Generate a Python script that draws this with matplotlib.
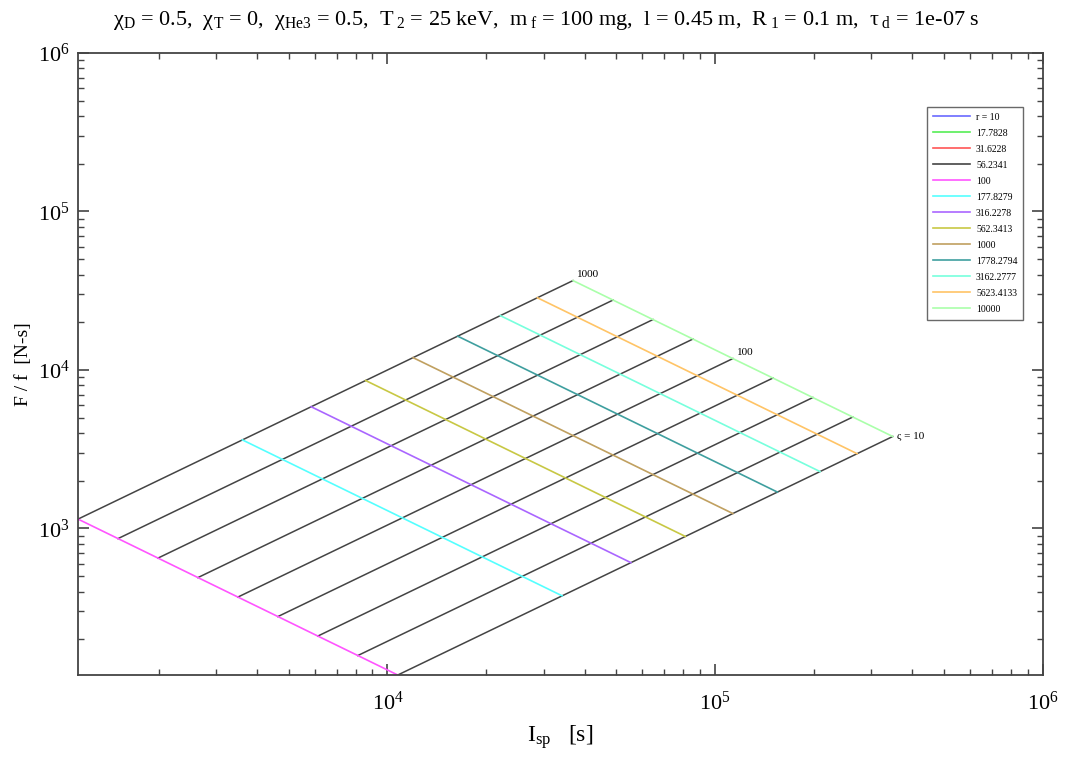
import numpy as np
import matplotlib
matplotlib.use("Agg")
import matplotlib.pyplot as plt
from matplotlib.ticker import LogLocator, NullFormatter

# %% Style
plt.rcParams['font.family'] = ['Liberation Serif', 'DejaVu Serif']
plt.rcParams['mathtext.fontset'] = 'custom'
plt.rcParams['mathtext.rm'] = 'Liberation Serif'
plt.rcParams['mathtext.it'] = 'Liberation Serif:italic'
plt.rcParams['mathtext.bf'] = 'Liberation Serif:bold'

# %% Data
# r levels in the legend (first four have no points in range)
r_labels = ["r = 10", "17.7828", "31.6228", "56.2341", "100", "177.8279", "316.2278",
            "562.3413", "1000", "1778.2794", "3162.2777", "5623.4133", "10000"]
r_colors = ["#6a6aff", "#55ee55", "#ff5555", "#444444", "#ff55ff", "#55ffff", "#aa66ff",
            "#c8c844", "#c0a060", "#3f9f9f", "#77ffdd", "#ffc466", "#aaffaa"]

# q levels along each r curve (10 .. 1000)
q_values = [10, 17.78, 31.62, 56.23, 100, 177.8, 316.2, 562.3, 1000]
q_labels = {0: "ς = 10", 4: "100", 8: "1000"}

# Isp [s], rows: r = 100 .. 10000, cols: q = 10 .. 1000
isp = np.array([
    [10750, 8120, 6130, 4630, 3495, 2639, 1993, 1505, 1136],
    [34130, 25780, 19460, 14700, 11100, 8379, 6328, 4778, 3607],
    [55350, 41810, 31560, 23840, 18000, 13590, 10260, 7749, 5849],
    [81150, 61300, 46280, 34950, 26380, 19920, 15050, 11360, 8576],
    [113300, 85590, 64620, 48800, 36840, 27820, 21010, 15860, 11970],
    [155000, 117100, 88380, 66750, 50390, 38050, 28730, 21700, 16380],
    [209100, 157900, 119200, 90050, 67980, 51330, 38760, 29270, 22100],
    [271400, 205000, 154800, 116900, 88250, 66640, 50320, 38000, 28680],
    [348600, 263300, 198800, 150200, 113300, 85580, 64630, 48810, 36840],
])

# F/f [N-s], same layout
force = np.array([
    [118.9, 157.8, 209.4, 278.0, 369.0, 489.8, 650.1, 863.0, 1145.5],
    [375.7, 498.6, 661.7, 878.5, 1166, 1548, 2054, 2727, 3620],
    [608.3, 807.3, 1071, 1422, 1888, 2506, 3326, 4415, 5860],
    [890.3, 1182, 1568, 2082, 2763, 3668, 4868, 6462, 8578],
    [1242, 1648, 2187, 2904, 3854, 5116, 6790, 9014, 11960],
    [1696, 2251, 2987, 3966, 5264, 6988, 9274, 12310, 16340],
    [2285, 3033, 4025, 5343, 7092, 9414, 12490, 16590, 22020],
    [2963, 3932, 5218, 6928, 9196, 12210, 16200, 21510, 28550],
    [3804, 5048, 6699, 8893, 11800, 15670, 20800, 27610, 36640],
])

title = ("χ$_\\mathrm{D}$ = 0.5,  χ$_\\mathrm{T}$ = 0,  χ$_\\mathrm{He3}$ = 0.5,  "
         "T$_{\\;\\mathrm{2}}$ = 25 keV,  m$_{\\;\\mathrm{f}}$ = 100 mg,  l = 0.45 m,  "
         "R$_{\\;\\mathrm{1}}$ = 0.1 m,  τ$_{\\;\\mathrm{d}}$ = 1e-07 s")

# %% Plot
fig = plt.figure(figsize=(10.66, 7.57), dpi=100)
ax = fig.add_axes([0.0732, 0.1083, 0.9049, 0.8217])

n_empty = len(r_labels) - isp.shape[0]
for c, lab in zip(r_colors[:n_empty], r_labels[:n_empty]):
    ax.plot([], [], color=c, lw=1.2, label=lab)

# constant-q lines
for k in range(len(q_values)):
    ax.plot(isp[:, k], force[:, k], color="#444444", lw=1.1)
    if k in q_labels:
        ax.annotate(q_labels[k], (isp[-1, k], force[-1, k]), xytext=(3, 1),
                    textcoords="offset points", fontsize=8,
                    va="center" if k == 0 else "bottom", ha="left")

# constant-r lines
for i in range(isp.shape[0]):
    ax.plot(isp[i], force[i], color=r_colors[n_empty + i], lw=1.2,
            label=r_labels[n_empty + i])

ax.set_xscale("log")
ax.set_yscale("log")
ax.set_xlim(isp.min(), 1e6)
ax.set_ylim(force.min(), 1e6)

for axis in (ax.xaxis, ax.yaxis):
    axis.set_major_locator(LogLocator(base=10))
    axis.set_minor_locator(LogLocator(base=10, subs=np.arange(2, 10)))
    axis.set_minor_formatter(NullFormatter())

ax.tick_params(which="both", direction="in", top=True, right=True, color="#444444")
ax.tick_params(which="major", length=8, width=1.2, labelsize=16)
ax.tick_params(axis="x", which="major", pad=12)
ax.tick_params(axis="y", which="major", pad=6)
ax.tick_params(which="minor", length=4, width=1.0)
for s in ax.spines.values():
    s.set_color("#444444")
    s.set_linewidth(1.3)

ax.set_xlabel("I$_\\mathrm{sp}$   [s]", fontsize=17, labelpad=6)
ax.set_ylabel("F / f  [N-s]", fontsize=14, labelpad=4)
ax.set_title(title, fontsize=16, pad=20, x=0.485)

leg = ax.legend(loc="upper right", bbox_to_anchor=(0.985, 0.921), fontsize=7,
                handlelength=3.8, labelspacing=0.72, frameon=True, fancybox=False,
                borderpad=0.6, handletextpad=0.6)
leg.get_frame().set_edgecolor("#444444")
leg.get_frame().set_linewidth(1.0)

fig.savefig("out.png", dpi=100)
